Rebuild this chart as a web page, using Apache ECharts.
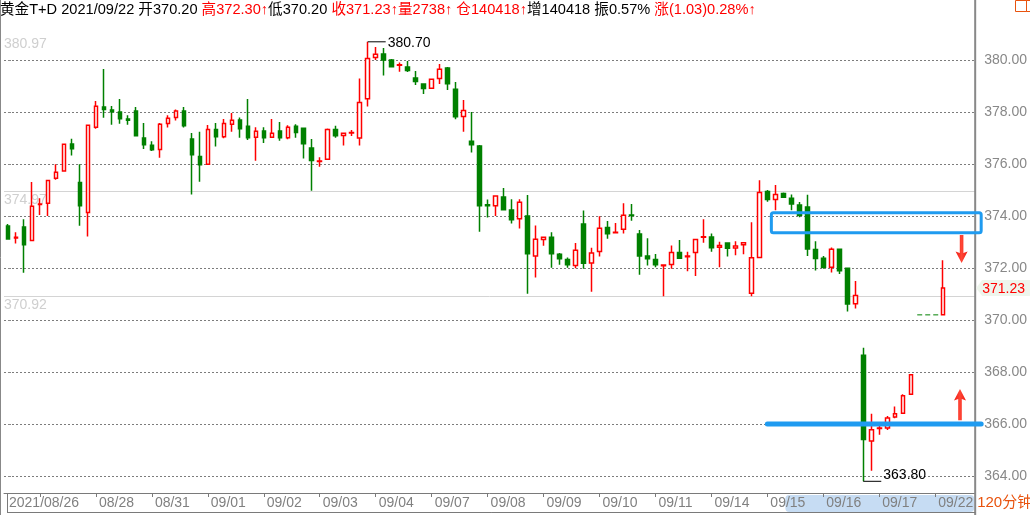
<!DOCTYPE html>
<html><head><meta charset="utf-8">
<script src="https://cdn.jsdelivr.net/npm/echarts/dist/echarts.min.js"></script>
<style>html,body{margin:0;padding:0;background:#fff}#c{width:1030px;height:515px}</style>
</head><body><div id="c"></div>
<script>
// ---- data (120-minute bars, slot index = position on the axis) ----
const openP  = [373.62,373.16,373.58,373.06,374.44,374.49,375.45,375.73,376.77,375.29,
  374.14,377.41,378.19,378.08,378.00,377.73,378.04,377.00,376.72,376.56,
  377.56,377.79,378.04,376.96,376.29,375.99,377.33,377.05,377.53,377.69,
  377.45,377.03,377.27,377.03,377.27,377.01,377.45,377.38,376.62,376.10,
  376.18,377.33,377.10,377.19,377.00,378.51,380.10,380.23,380.00,379.80,
  379.73,379.31,379.08,378.91,379.29,379.69,378.88,377.83,376.88,376.69,
  374.43,374.40,374.73,374.23,373.90,374.00,372.46,373.10,373.18,372.53,
  372.33,372.10,373.69,372.19,372.64,373.56,373.36,373.49,374.04,373.31,
  372.46,372.33,372.09,372.14,372.60,372.43,372.60,373.18,373.19,372.80,
  372.96,372.77,372.90,371.03,372.41,374.94,374.64,374.87,374.68,374.42,
  374.35,372.71,372.38,372.03,372.72,371.99,370.63,368.65,365.35,365.83,
  365.85,366.27,366.42,367.15,null,null,null,370.20];
const closeP = [373.12,373.18,372.90,374.38,374.46,375.37,375.68,376.76,376.59,374.40,
  377.49,378.22,378.10,378.01,377.74,377.68,377.09,376.74,376.55,377.53,
  377.76,378.04,377.47,376.36,375.97,377.33,377.05,377.56,377.68,377.36,
  377.01,377.26,377.01,377.18,377.01,377.41,377.21,376.78,376.14,376.12,
  377.33,377.09,377.18,377.21,378.37,380.06,380.22,380.00,379.74,379.82,
  379.60,379.17,378.90,379.26,379.64,379.09,377.82,378.06,376.74,374.40,
  374.40,374.77,374.24,373.86,374.53,372.55,373.11,373.18,372.55,372.36,
  372.13,372.68,372.18,372.58,373.53,373.32,373.38,374.03,374.02,372.46,
  372.36,372.13,372.12,372.60,372.38,372.46,373.10,373.20,372.78,372.87,
  372.76,372.85,372.97,372.40,374.91,374.64,374.83,374.72,374.46,374.03,
  372.73,372.37,372.03,372.72,371.90,370.62,370.94,365.41,365.78,365.85,
  366.23,366.40,367.09,367.90,null,null,null,371.23];
const lowP   = [373.12,372.94,371.82,373.06,374.04,374.00,375.40,375.73,376.33,373.63,
  373.21,377.36,377.78,377.51,377.55,377.51,377.09,376.58,376.50,376.24,
  377.40,377.67,377.40,374.83,375.32,375.99,376.67,376.99,377.24,377.01,
  376.92,376.13,376.81,377.03,376.90,376.95,377.01,376.21,374.97,375.90,
  376.18,377.01,376.71,377.08,376.71,378.21,380.00,379.40,379.74,379.55,
  379.54,379.04,378.69,378.91,379.08,378.85,377.72,377.24,376.44,373.40,
  373.94,374.00,374.24,373.71,373.52,371.01,371.64,372.86,372.01,372.13,
  372.01,371.99,371.97,371.09,372.44,373.13,373.36,373.33,373.82,371.74,
  372.10,372.03,370.92,371.97,372.36,371.88,371.69,372.97,372.63,372.03,
  372.44,372.49,372.53,370.92,372.41,374.55,374.22,374.69,374.22,373.95,
  372.46,371.91,371.97,371.83,371.77,370.33,370.44,363.80,364.21,365.59,
  365.77,366.22,366.42,367.15,null,null,null,370.20];
const highP  = [373.69,373.38,373.88,375.31,374.68,375.37,375.99,376.76,376.97,375.99,
  377.49,378.42,379.65,378.23,378.50,377.88,378.19,377.58,376.88,377.58,
  377.88,378.10,378.19,377.19,377.24,377.50,377.58,377.73,377.96,377.79,
  378.50,377.41,377.41,377.73,377.62,377.49,377.53,377.38,376.96,376.26,
  377.37,377.47,377.18,377.31,379.29,380.70,380.50,380.46,380.04,379.90,
  379.96,379.58,379.08,379.26,379.85,379.73,379.15,378.46,378.00,376.73,
  374.64,374.79,375.08,374.65,374.65,374.81,373.64,373.18,373.38,372.58,
  372.41,372.96,374.21,372.78,373.99,373.81,373.73,374.49,374.46,373.46,
  373.15,372.54,372.12,372.87,373.08,372.63,373.10,373.88,373.33,373.01,
  372.96,373.03,372.97,373.76,375.38,375.00,375.19,374.91,374.83,374.54,
  374.82,373.03,372.46,372.79,372.72,371.99,371.50,368.94,366.40,365.97,
  366.31,366.68,367.15,367.90,null,null,null,372.30];

const tickPos    = [4,11,18,25,32,39,46,53,60,67,74,81,88,95,102,109,116];
const labelPos   = [-0.25,11,18,25,32,39,46,53,60,67,74,81,88,95,102,109,116];
const tickLabels = ['2021/08/26','08/28','08/31','09/01','09/02','09/03','09/04','09/07','09/08',
                    '09/09','09/10','09/11','09/14','09/15','09/16','09/17','09/22'];
const yTicks     = [364,366,368,370,372,374,376,378,380];
const refLevels  = [380.97, 374.97, 370.92];
const flatLine   = [[113.75, 370.20], [116.75, 370.20]];
const boxX = [95.5, 121.75], boxY = [374.13, 373.36];
const supportX = [95, 121.75], supportLevel = 366.0;
const downArrow = [119.3, 373.27, 372.19];   // x, tail, tip
const upArrow   = [119.1, 366.15, 367.35];
const selX = [97.25, 121];
const headerParts = [
  ['k','黄金T+D 2021/09/22 开370.20 '],['r','高372.30↑'],['k','低370.20 '],
  ['r','收371.23↑量2738↑ 仓140418↑'],['k','增140418 振0.57% '],['r','涨(1.03)0.28%↑']];
const periodLabel = '120分钟';

// ---- build ----
const FONT = '"Liberation Sans", Arial, "Noto Sans CJK SC", sans-serif';
const candleData = [];
for (let i = 0; i < openP.length; i++) {
  if (openP[i] != null) candleData.push([i, openP[i], closeP[i], lowP[i], highP[i]]);
}
const chart = echarts.init(document.getElementById('c'), null, {renderer: 'canvas'});
const option = {
  animation: false,
  backgroundColor: '#ffffff',
  textStyle: {fontFamily: FONT},
  grid: {left: 4, right: 54, top: 21, bottom: 22, containLabel: false},
  xAxis: {
    type: 'value', min: -0.5, max: 121,
    splitLine: {show: false},
    axisLine: {show: true, onZero: false, lineStyle: {color: '#7a7a7a', width: 1}},
    axisTick: {show: true, customValues: tickPos, length: 4, lineStyle: {color: '#7a7a7a'}},
    axisLabel: {
      show: true, customValues: labelPos, align: 'left', margin: 3,
      padding: [0, 0, 0, 3], color: '#808080', fontSize: 14, fontFamily: FONT,
      formatter: v => { const k = labelPos.indexOf(v); return k >= 0 ? tickLabels[k] : ''; }
    }
  },
  yAxis: {
    type: 'value', position: 'right', min: 363.35, max: 381.5, scale: true,
    axisLine: {show: false},
    axisTick: {show: true, customValues: yTicks, length: 3, lineStyle: {color: '#888'}},
    axisLabel: {show: true, customValues: yTicks, margin: 9, color: '#888', fontSize: 14,
      fontFamily: FONT, formatter: v => v.toFixed(2)},
    splitLine: {show: true, lineStyle: {color: '#7c7c7c', type: [2, 2], width: 1}}
  },
  series: [
    {
      type: 'candlestick', data: candleData, encode: {x: 0, y: [1, 2, 3, 4]},
      barWidth: 4, clip: false, z: 3,
      itemStyle: {color: '#ffffff', color0: '#008000', borderColor: '#ff0000',
        borderColor0: '#008000', borderWidth: 1.5},
      markLine: {
        silent: true, symbol: ['none', 'none'], z: 1,
        lineStyle: {color: '#d4d4d4', type: 'solid', width: 1},
        label: {show: true, position: 'insideStartBottom', distance: [0, 2],
          color: '#cfcfcf', fontSize: 14, fontFamily: FONT,
          formatter: p => p.value.toFixed(2)},
        data: refLevels.map((v, i) => ({yAxis: v, lineStyle: {color: i === 0 ? 'rgba(0,0,0,0)' : '#d4d4d4'}}))
      }
    },
    {
      type: 'line', data: flatLine, symbol: 'none', silent: true, z: 2,
      lineStyle: {color: '#008000', width: 1, type: [5, 3]}
    }
  ]
};
chart.setOption(option);

// ---- annotations positioned through the chart's own scales ----
const P = (x, y) => chart.convertToPixel({gridIndex: 0}, [x, y]);
const g = [];
const gridR = P(121, 370)[0], gridB = P(0, 363.35)[1];

// frame lines
g.push({type: 'line', shape: {x1: 0.5, y1: 0, x2: 0.5, y2: 515}, style: {stroke: '#888', lineWidth: 1}, z: 10});
g.push({type: 'line', shape: {x1: gridR, y1: 0, x2: gridR, y2: 515}, style: {stroke: '#888', lineWidth: 2}, z: 10});
g.push({type: 'line', shape: {x1: 7, y1: 512.5, x2: gridR, y2: 512.5}, style: {stroke: '#7a7a7a', lineWidth: 1}, z: 10});
g.push({type: 'line', shape: {x1: 7.5, y1: gridB, x2: 7.5, y2: 512.5}, style: {stroke: '#7a7a7a', lineWidth: 1}, z: 10});

// selection highlight on the time band
const s0 = P(selX[0], 370)[0];
g.push({type: 'rect', shape: {x: s0, y: gridB + 2, width: gridR - s0 - 1, height: 512 - gridB - 2, r: 4},
  style: {fill: '#c6dcf3'}, z: -5});

// max / min markers
let iMax = 0, iMin = 0;
highP.forEach((v, i) => { if (v != null && v > highP[iMax]) iMax = i; });
lowP.forEach((v, i) => { if (v != null && v < lowP[iMin]) iMin = i; });
const pMax = P(iMax, highP[iMax]), pMin = P(iMin, lowP[iMin]);
g.push({type: 'line', shape: {x1: pMax[0], y1: pMax[1], x2: pMax[0] + 18, y2: pMax[1]}, style: {stroke: '#000', lineWidth: 1}, z: 20});
g.push({type: 'text', x: pMax[0] + 20, y: pMax[1] + 1, style: {text: highP[iMax].toFixed(2), fill: '#000', font: '14px ' + FONT, verticalAlign: 'middle'}, z: 20});
g.push({type: 'line', shape: {x1: pMin[0], y1: pMin[1], x2: pMin[0] + 18, y2: pMin[1]}, style: {stroke: '#000', lineWidth: 1}, z: 20});
g.push({type: 'text', x: pMin[0] + 20, y: pMin[1] + 1, style: {text: lowP[iMin].toFixed(2), fill: '#000', font: '14px ' + FONT, verticalAlign: 'bottom'}, z: 20});

// blue resistance box and support line
const b0 = P(boxX[0], boxY[0]), b1 = P(boxX[1], boxY[1]);
g.push({type: 'rect', shape: {x: b0[0], y: b0[1], width: b1[0] - b0[0], height: b1[1] - b0[1], r: 2},
  style: {fill: 'none', stroke: '#1f9bf0', lineWidth: 3}, z: 30});
const l0 = P(supportX[0], supportLevel), l1 = P(supportX[1], supportLevel);
g.push({type: 'line', shape: {x1: l0[0], y1: l0[1], x2: l1[0], y2: l1[1]},
  style: {stroke: '#1f9bf0', lineWidth: 5, lineCap: 'round'}, z: 30});

// red arrows
function arrow(a) {
  const t = P(a[0], a[1]), h = P(a[0], a[2]);
  const cx = t[0], yt = t[1], yh = h[1], d = yh > yt ? 1 : -1;
  return {type: 'polygon', shape: {points: [
    [cx - 1.8, yt], [cx + 1.8, yt], [cx + 1.8, yh - d * 10], [cx + 6, yh - d * 11.5], [cx, yh],
    [cx - 6, yh - d * 11.5], [cx - 1.8, yh - d * 10]]},
    style: {fill: new echarts.graphic.LinearGradient(0, 0, 1, 0, [
      {offset: 0, color: '#f01a12'}, {offset: 0.5, color: '#ff4636'}, {offset: 1, color: '#f01a12'}])}, z: 30};
}
g.push(arrow(downArrow));
g.push(arrow(upArrow));

// last price tag
const lastIdx = closeP.length - 1;
const yl = P(lastIdx, closeP[lastIdx])[1];
g.push({type: 'polygon', shape: {points: [[gridR + 1, yl], [gridR + 7, yl - 8], [1030, yl - 8], [1030, yl + 8], [gridR + 7, yl + 8]]},
  style: {fill: '#eef5ec'}, z: 25});
g.push({type: 'text', x: gridR + 7, y: yl + 1, style: {text: closeP[lastIdx].toFixed(2), fill: '#ff0000', font: '14px ' + FONT, verticalAlign: 'middle'}, z: 26});

// header
const HF = 14.6;
const rich = {k: {fill: '#000000', fontSize: HF, fontFamily: FONT}, r: {fill: '#ff0000', fontSize: HF, fontFamily: FONT}};
g.push({type: 'text', x: 0, y: 10, style: {
  text: headerParts.map(p => '{' + p[0] + '|' + p[1] + '}').join(''),
  rich: rich, verticalAlign: 'middle', font: HF + 'px ' + FONT}, z: 40});
// top-right small window boxes
g.push({type: 'rect', shape: {x: 1015.5, y: 0.5, width: 11, height: 11}, style: {fill: 'none', stroke: '#e8530e', lineWidth: 1}, z: 40});
g.push({type: 'rect', shape: {x: 1026.5, y: 0.5, width: 11, height: 11}, style: {fill: 'none', stroke: '#e8530e', lineWidth: 1}, z: 40});
// period label
g.push({type: 'text', x: gridR + 2, y: 503, style: {text: periodLabel, fill: '#e8530e', font: '15px ' + FONT, verticalAlign: 'middle'}, z: 40});

chart.setOption({graphic: g});
</script></body></html>
